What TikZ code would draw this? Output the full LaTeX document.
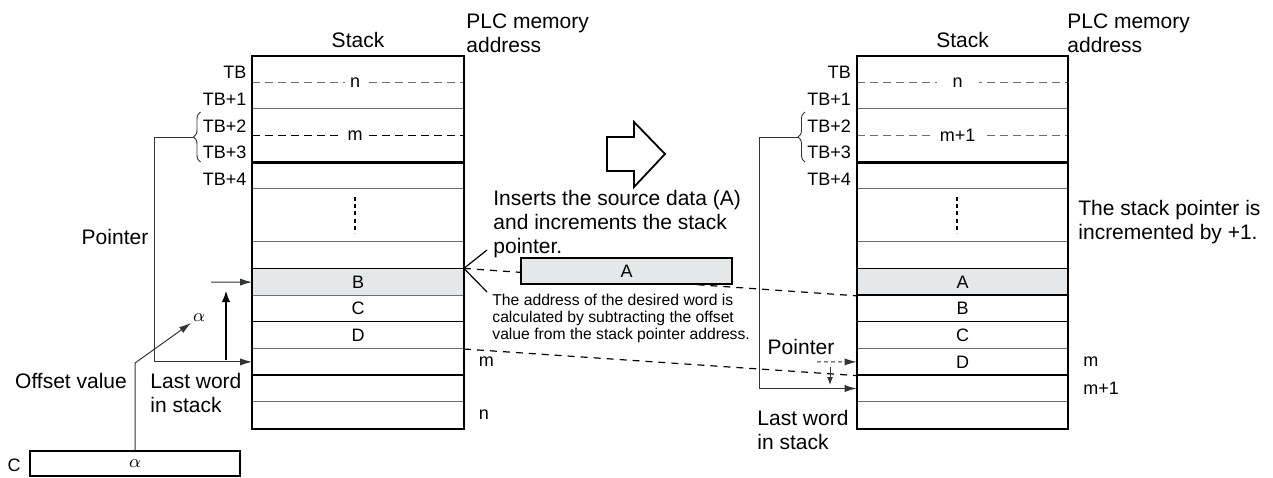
\documentclass[tikz,border=0pt]{standalone}
\usepackage{fontspec}
\setmainfont{Liberation Sans}
\usepackage{xcolor}
\usepackage{tikz}
\usetikzlibrary{arrows.meta, decorations.pathreplacing}

\definecolor{cellgray}{HTML}{E6E7E8}
\definecolor{linegray}{HTML}{6D6E71}

\begin{document}
\begin{tikzpicture}[x=0.5pt, y=-0.5pt,
    cell/.style={minimum width=105.5pt, minimum height=13.3pt, inner sep=0pt},
    border/.style={line width=1pt},
    thickrow/.style={line width=0.8pt},
    thinrow/.style={line width=0.45pt, linegray},
    gapdash/.style={line width=0.55pt, dash pattern=on 4pt off 2.5pt},
    link/.style={line width=0.6pt, dash pattern=on 3.5pt off 3pt},
    ptr/.style={line width=0.5pt, black!80, -{Latex[length=6pt, width=3.6pt]}},
    bigptr/.style={line width=1.2pt, -{Latex[length=6pt, width=4.2pt]}},
    vdots/.style={line width=0.9pt, dash pattern=on 2pt off 1.6pt},
    txt/.style={font=\fontsize{10.5}{12}\selectfont, inner sep=0pt},
    addr/.style={font=\fontsize{9}{10.8}\selectfont, inner sep=0pt},
    note/.style={font=\fontsize{7.85}{8.5}\selectfont, inner sep=0pt, align=left},
    brc/.style={decorate, decoration={brace, amplitude=3.5pt}, line width=0.45pt, black!80}
]
\useasboundingbox (0,0) rectangle (1273,477);

% cells of both stacks (before and after)
\foreach \k in {0,...,13} {
    \node[cell] (L\k) at (358, 56+26.6*\k+13.3) {};
    \node[cell] (R\k) at (962.5, 56+26.6*\k+13.3) {};
}
\fill[cellgray] (L8.north west) rectangle (L8.south east);
\fill[cellgray] (R8.north west) rectangle (R8.south east);

% row lines
\foreach \k in {2,5,7,9,11,13} \draw[thinrow] (L\k.north west) -- (L\k.north east);
\foreach \k in {4,8,10,12} \draw[thickrow] (L\k.north west) -- (L\k.north east);
\foreach \k in {2,5,7,11,13} \draw[thinrow] (R\k.north west) -- (R\k.north east);
\foreach \k in {4,8,9,10,12} \draw[thickrow] (R\k.north west) -- (R\k.north east);

% table words n / m
\draw[gapdash, linegray] (L1.north west) -- (L1.north east);
\draw[gapdash] (L3.north west) -- (L3.north east);
\draw[gapdash, linegray] (R1.north west) -- (R1.north east);
\draw[gapdash, linegray] (R3.north west) -- (R3.north east);
\node[addr, fill=white, inner xsep=2.5pt] (ln) at ([xshift=-1.5pt]L1.north) {n};
\node[addr, fill=white, inner xsep=2.5pt] (lmt) at ([xshift=-1.5pt]L3.north) {m};
\node[addr, fill=white, inner xsep=8pt] (rn) at ([xshift=-2.5pt]R1.north) {n};
\node[addr, fill=white, inner xsep=3.5pt] (rmt) at ([xshift=-2.5pt]R3.north) {m+1};

\draw[vdots] (355,197) -- (355,233);
\draw[vdots] (957,197) -- (957,233);

% outlines
\draw[border] (L0.north west) rectangle (L13.south east);
\draw[border] (L0.north west) rectangle (L3.south east);
\draw[border] (R0.north west) rectangle (R13.south east);
\draw[border] (R0.north west) rectangle (R3.south east);

% stack data
\node[addr] (lB) at (L8) {B};
\node[addr] (lC) at (L9) {C};
\node[addr] (lD) at (L10) {D};
\node[addr] (rA) at (R8) {A};
\node[addr] (rB) at (R9) {B};
\node[addr] (rC) at (R10) {C};
\node[addr] (rD) at (R11) {D};

% addresses
\foreach \k/\t in {0/TB, 1/TB+1, 2/TB+2, 3/TB+3, 4/TB+4} {
    \node[addr, anchor=east] (lt\k) at ([xshift=-2.7pt, yshift=-1.75pt]L\k.west) {\t};
    \node[addr, anchor=east] (rt\k) at ([xshift=-2.7pt, yshift=-1.75pt]R\k.west) {\t};
}
\node[addr, anchor=west] (lm) at ([xshift=7.25pt]L11.east) {m};
\node[addr, anchor=west] (lnb) at ([xshift=7.25pt]L13.east) {n};
\node[addr, anchor=west] (rm) at ([xshift=7.25pt]R11.east) {m};
\node[addr, anchor=west] (rm1) at ([xshift=7.25pt]R12.east) {m+1};

\node[txt] (lstack) at (358,40) {Stack};
\node[txt, anchor=north west, align=left] (laddr) at (466,13) {PLC memory\\address};
\node[txt] (rstack) at (962.5,40) {Stack};
\node[txt, anchor=north west, align=left] (raddr) at (1067,13) {PLC memory\\address};

% left: pointer and offset
\draw[brc] (200.5,162) -- (200.5,112);
\coordinate (lbt) at (193.5,137);
\draw[ptr] (lbt) -- (154,137) |- (L11.west);
\node[txt] (lptr) at (115,237) {Pointer};
\coordinate (bfrom) at (211,282.1);
\draw[ptr] (bfrom) -- (L8.west);
\draw[bigptr] (226,360) -- (226,290);

\node[cell, draw, border, minimum width=105pt, minimum height=12.5pt, font=\fontsize{9}{10.8}\selectfont] (cbox) at (135,463.5) {$\alpha$};
\node[addr] (clbl) at (14,465) {C};
\coordinate (ofsbend) at (135,363);
\coordinate (ofsend) at (191,323);
\draw[ptr] (cbox.north) -- (ofsbend) -- (ofsend);
\node[addr] (ofsa) at (199,318) {$\alpha$};
\node[txt] (ofslbl) at (71,381) {Offset value};
\node[txt, anchor=north west, align=left] (llast) at (150,373) {Last word\\in stack};

% middle: step arrow and notes
\draw[line width=0.9pt, fill=white] (607,137) -- (634,137) -- (634,122) -- (665,154)
    -- (634,187) -- (634,171) -- (607,171) -- cycle;
\node[txt, anchor=north west, align=left] (ins) at (493,190)
    {Inserts the source data (A)\\and increments the stack\\pointer.};
\draw[line width=0.6pt] (487,250) -- (L8.north east) -- (487,292);
\draw[link] (L8.north east) -- (R8.south west);
\draw[link] (L10.south east) -- (R11.south west);
\node[cell, draw, border, fill=cellgray, minimum height=13pt, font=\fontsize{9}{10.8}\selectfont] (srcA) at (626.5,271) {A};
\node[note, anchor=north west] (calc) at (492,294)
    {The address of the desired word is\\calculated by subtracting the offset\\value from the stack pointer address.};

% right: pointer moved by one
\draw[brc] (805,162) -- (805,112);
\coordinate (rbt) at (798,137);
\draw[ptr] (rbt) -- (759,137) |- (R12.west);
\node[txt] (rptr) at (801,347) {Pointer};
\coordinate (oldptr) at (817,361.9);
\draw[ptr, dash pattern=on 2pt off 1.5pt] (oldptr) -- (R11.west);
\coordinate (incfrom) at (830,367);
\coordinate (incto) at (830,385);
\draw[ptr, -{Latex[length=4pt, width=3pt]}] (incfrom) -- (incto);
\node[txt, anchor=north west, align=left] (rlast) at (757,410) {Last word\\in stack};
\node[txt, anchor=north west, align=left] (incnote) at (1078,200)
    {The stack pointer is\\incremented by +1.};
\end{tikzpicture}
\end{document}
